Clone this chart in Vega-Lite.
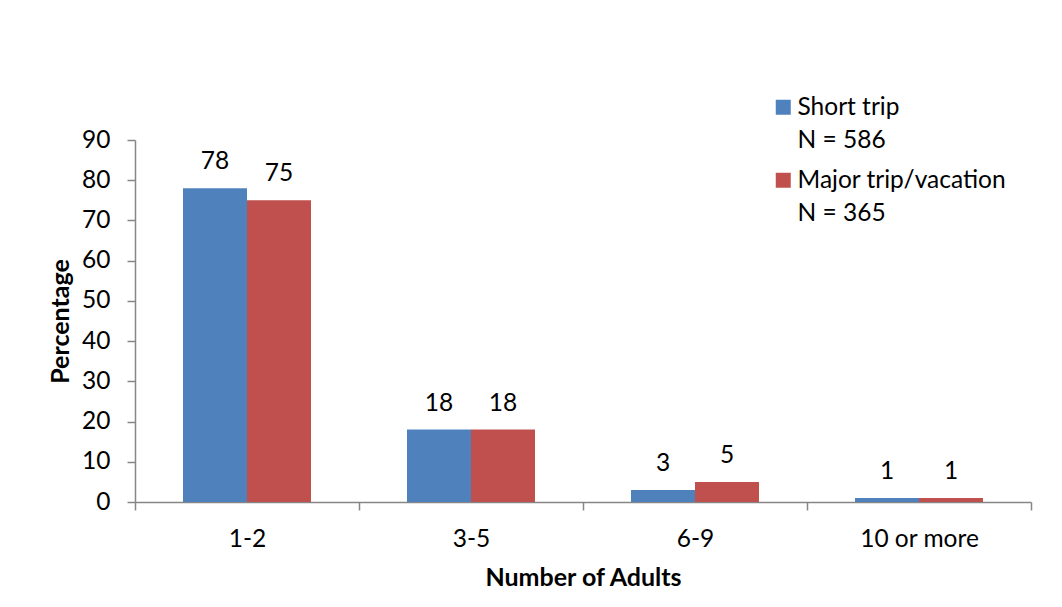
{
  "$schema": "https://vega.github.io/schema/vega-lite/v6.json",
  "width": 896,
  "height": 362,
  "autosize": {"type": "none"},
  "padding": {"left": 135, "top": 140, "right": 31, "bottom": 105},
  "background": "white",
  "data": {
    "values": [
      {"adults": "1-2", "trip": "Short trip", "pct": 78},
      {"adults": "1-2", "trip": "Major trip/vacation", "pct": 75},
      {"adults": "3-5", "trip": "Short trip", "pct": 18},
      {"adults": "3-5", "trip": "Major trip/vacation", "pct": 18},
      {"adults": "6-9", "trip": "Short trip", "pct": 3},
      {"adults": "6-9", "trip": "Major trip/vacation", "pct": 5},
      {"adults": "10 or more", "trip": "Short trip", "pct": 1},
      {"adults": "10 or more", "trip": "Major trip/vacation", "pct": 1}
    ]
  },
  "encoding": {
    "x": {
      "field": "adults",
      "type": "nominal",
      "sort": ["1-2", "3-5", "6-9", "10 or more"],
      "scale": {"paddingInner": 0, "paddingOuter": 0},
      "axis": {
        "title": "Number of Adults",
        "labelAngle": 0,
        "tickBand": "extent",
        "tickSize": 8,
        "labelPadding": 17,
        "titlePadding": 15
      }
    },
    "xOffset": {
      "field": "trip",
      "type": "nominal",
      "sort": ["Short trip", "Major trip/vacation"],
      "scale": {"paddingInner": 0, "paddingOuter": 0.75}
    }
  },
  "layer": [
    {
      "mark": {"type": "bar"},
      "encoding": {
        "y": {
          "field": "pct",
          "type": "quantitative",
          "scale": {"domain": [0, 90], "nice": false},
          "axis": {
            "title": "Percentage",
            "values": [0, 10, 20, 30, 40, 50, 60, 70, 80, 90],
            "tickSize": 8,
            "labelPadding": 17,
            "titlePadding": 8
          }
        },
        "color": {
          "field": "trip",
          "type": "nominal",
          "sort": ["Short trip", "Major trip/vacation"],
          "scale": {
            "domain": ["Short trip", "Major trip/vacation"],
            "range": ["#4F81BD", "#C0504D"]
          },
          "legend": {
            "title": null,
            "orient": "none",
            "legendX": 636,
            "legendY": -45,
            "symbolType": "square",
            "symbolSize": 225,
            "symbolStrokeWidth": 0,
            "labelOffset": 2,
            "labelFont": "Lato",
            "labelFontSize": 24.5,
            "labelColor": "#000000",
            "labelBaseline": "alphabetic",
            "labelLimit": 400,
            "rowPadding": 15,
            "labelExpr": "datum.label == 'Short trip' ? ['Short trip', 'N = 586'] : ['Major trip/vacation', 'N = 365']",
            "encode": {
              "labels": {
                "update": {
                  "lineHeight": {"value": 33},
                  "dy": {"value": 8}
                }
              }
            }
          }
        }
      }
    },
    {
      "mark": {
        "type": "text",
        "baseline": "alphabetic",
        "dy": -19,
        "font": "Lato",
        "fontSize": 24.5,
        "color": "#000000"
      },
      "encoding": {
        "y": {"field": "pct", "type": "quantitative"},
        "text": {"field": "pct", "type": "quantitative"}
      }
    }
  ],
  "config": {
    "view": {"stroke": null},
    "font": "Lato",
    "axis": {
      "grid": false,
      "domainColor": "#868686",
      "domainWidth": 1.5,
      "tickColor": "#868686",
      "tickWidth": 1.5,
      "labelFont": "Lato",
      "labelFontSize": 24.5,
      "labelColor": "#000000",
      "titleFont": "Lato",
      "titleFontSize": 25,
      "titleFontWeight": "bold",
      "titleColor": "#000000"
    }
  }
}
